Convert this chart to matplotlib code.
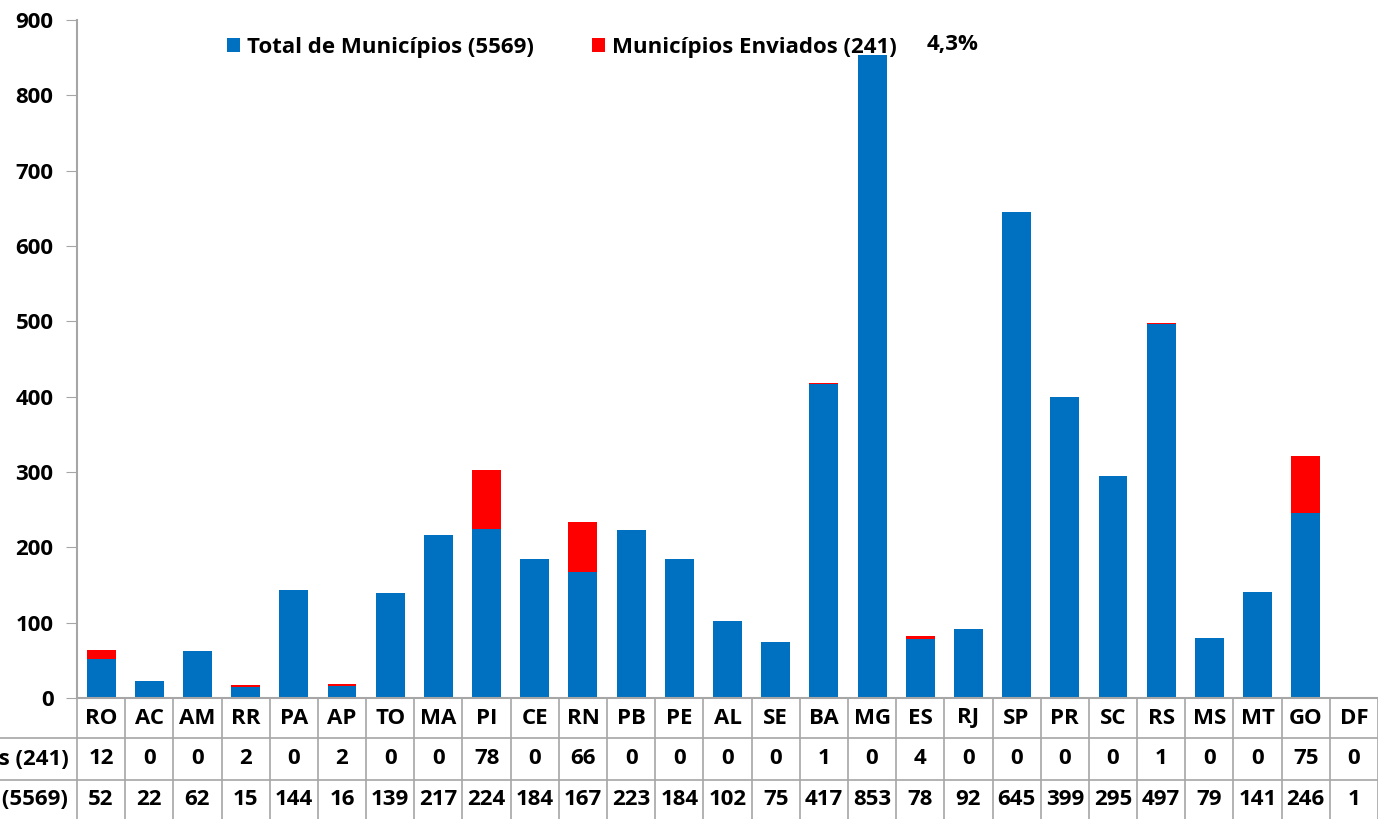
import numpy as np
import matplotlib.pyplot as plt
import matplotlib.transforms as mtransforms

plt.rcParams['font.family'] = ['Open Sans', 'DejaVu Sans']
plt.rcParams['font.weight'] = 'bold'

ufs = ['RO', 'AC', 'AM', 'RR', 'PA', 'AP', 'TO', 'MA', 'PI', 'CE', 'RN', 'PB', 'PE', 'AL',
       'SE', 'BA', 'MG', 'ES', 'RJ', 'SP', 'PR', 'SC', 'RS', 'MS', 'MT', 'GO', 'DF']
enviados = [12, 0, 0, 2, 0, 2, 0, 0, 78, 0, 66, 0, 0, 0, 0, 1, 0, 4, 0, 0, 0, 0, 1, 0, 0, 75, 0]
total = [52, 22, 62, 15, 144, 16, 139, 217, 224, 184, 167, 223, 184, 102, 75, 417, 853, 78,
         92, 645, 399, 295, 497, 79, 141, 246, 1]
lbl_total = 'Total de Municípios (5569)'
lbl_env = 'Municípios Enviados (241)'
pct = '4,3%'

blue = '#0070C0'
red = '#FF0000'
gray = '#A6A6A6'
fs = 16

W, H = 1378, 819
fig = plt.figure(figsize=(W / 100, H / 100), dpi=100)
ax = fig.add_axes([77 / W, (819 - 698) / H, (1378 - 77) / W, (698 - 20) / H])

x = np.arange(len(ufs))
ax.bar(x, total, width=0.6, color=blue, label=lbl_total)
ax.bar(x, enviados, width=0.6, bottom=total, color=red, label=lbl_env)

ax.set_xlim(-0.5, len(ufs) - 0.5)
ax.set_ylim(0, 900)
ax.set_yticks(range(0, 901, 100))
ax.tick_params(axis='y', labelsize=fs, length=8, color=gray, pad=9)
ax.tick_params(axis='x', bottom=False, labelbottom=False)
for s in ['top', 'right']:
    ax.spines[s].set_visible(False)
for s in ['left', 'bottom']:
    ax.spines[s].set_color(gray)
    ax.spines[s].set_linewidth(1.5)

# legend
leg = ax.legend(loc='upper left', bbox_to_anchor=(0.1, 1.005), ncol=2, frameon=False,
                fontsize=fs, handlelength=0.6, handleheight=0.6, columnspacing=2.6,
                handletextpad=0.3)
ax.text(0.653, 0.964, pct, transform=ax.transAxes, fontsize=fs, fontweight='bold',
        va='center', ha='left')

# data table below the axis
trans = mtransforms.blended_transform_factory(ax.transData, ax.transAxes)
px = 1 / (698 - 20)
row_bounds = [0, -40 * px, -82 * px, -121 * px]
row_mid = [(row_bounds[i] + row_bounds[i + 1]) / 2 for i in range(3)]

for i in range(len(ufs) + 1):
    ax.plot([i - 0.5, i - 0.5], [0, row_bounds[-1]], transform=trans, color=gray,
            lw=1.2, clip_on=False)
for yb in row_bounds[1:3]:
    ax.plot([-0.5 - 1.6, len(ufs) - 0.5], [yb, yb], transform=trans, color=gray,
            lw=1.2, clip_on=False)

for i, uf in enumerate(ufs):
    ax.text(i, row_mid[0], uf, transform=trans, ha='center', va='center', fontsize=fs,
            fontweight='bold')
    ax.text(i, row_mid[1], str(enviados[i]), transform=trans, ha='center', va='center',
            fontsize=fs, fontweight='bold')
    ax.text(i, row_mid[2], str(total[i]), transform=trans, ha='center', va='center',
            fontsize=fs, fontweight='bold')

ax.text(-0.68, row_mid[1], lbl_env, transform=trans, ha='right', va='center',
        fontsize=fs, fontweight='bold')
ax.text(-0.68, row_mid[2], lbl_total, transform=trans, ha='right', va='center',
        fontsize=fs, fontweight='bold')

fig.savefig('out.png', dpi=100)
